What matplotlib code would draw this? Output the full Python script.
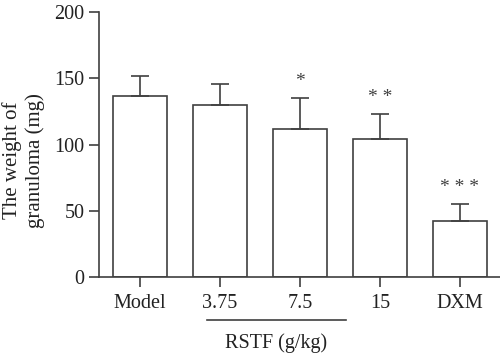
import matplotlib.pyplot as plt

plt.rcParams['font.family'] = 'Liberation Serif'

groups = ['Model', '3.75', '7.5', '15', 'DXM']
weight = [136.5, 130, 112, 104, 42]
err = [15, 15.5, 23, 19, 13]
marks = ['', '', '*', '**', '***']

col = '#404040'
fig = plt.figure(figsize=(5, 3.56), dpi=100)
ax = fig.add_axes([0.198, 0.222, 0.802, 0.744])
x = range(len(groups))
ax.bar(x, weight, width=0.675, color='white', edgecolor=col, linewidth=1.2)
ax.errorbar(x, weight, yerr=[[0]*len(err), err], fmt='none', ecolor=col,
            elinewidth=1.2, capsize=6.5, capthick=1.2)
for i, m in enumerate(marks):
    if m:
        ax.text(i, weight[i] + err[i] + 6, ' '.join(m), ha='center', va='bottom',
                fontsize=14, color=col)

ax.set_xlim(-0.51, 4.5)
ax.set_ylim(0, 200)
ax.set_yticks([0, 50, 100, 150, 200])
ax.set_xticks(list(x))
ax.set_xticklabels(groups)
for s in ['top', 'right']:
    ax.spines[s].set_visible(False)
for s in ['left', 'bottom']:
    ax.spines[s].set_color(col)
    ax.spines[s].set_linewidth(1.2)
ax.tick_params(colors=col, labelcolor='#222222', labelsize=14.5, length=7, width=1.2)
ax.tick_params(axis='x', pad=5)
ax.set_ylabel('The weight of\ngranuloma (mg)', fontsize=15, color='#222222')
ax.yaxis.set_label_coords(-0.135, 0.44)

# bracket under the RSTF doses
ax.plot([0.835, 2.57], [-0.162, -0.162], color=col, lw=1.2, clip_on=False,
        transform=ax.get_xaxis_transform())
ax.text(1.7, -0.25, 'RSTF (g/kg)', transform=ax.get_xaxis_transform(), ha='center',
        va='center', fontsize=14.5, color='#222222')

fig.savefig('out.png')
